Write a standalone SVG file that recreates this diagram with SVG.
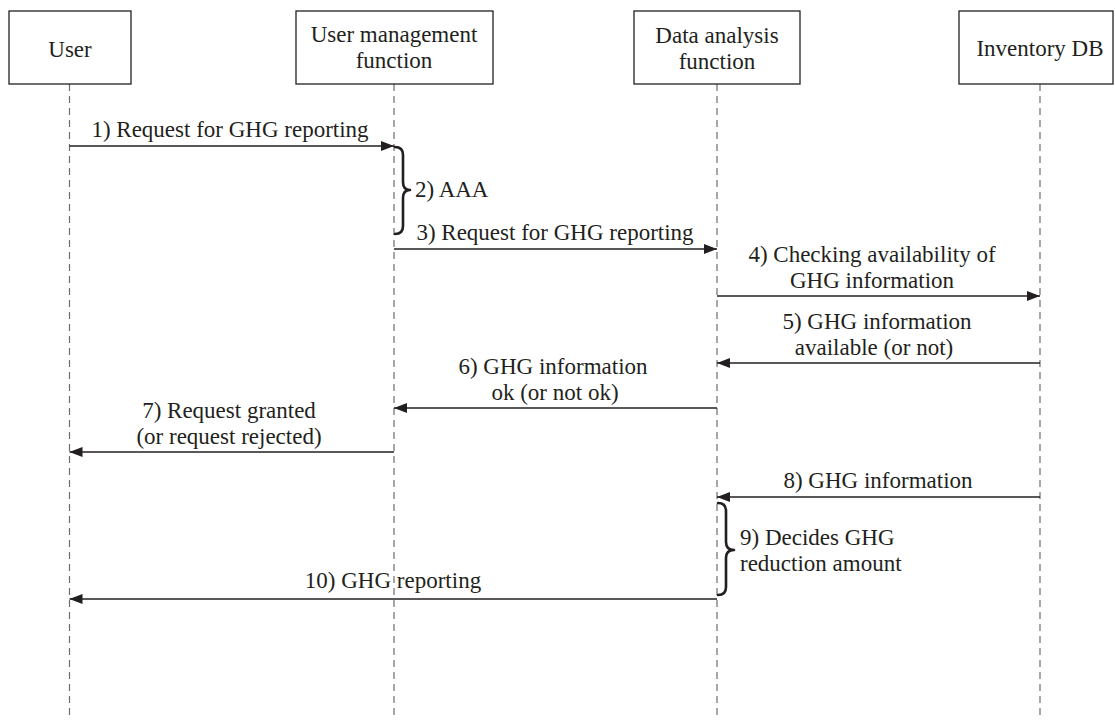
<svg xmlns="http://www.w3.org/2000/svg" width="1115" height="720" viewBox="0 0 1115 720">
<style>
  .box{fill:#fff;stroke:#231f20;stroke-width:1.3}
  .life{stroke:#6d6d6d;stroke-width:1.2;stroke-dasharray:7 5;fill:none}
  .msg{stroke:#231f20;stroke-width:1.3;fill:none}
  .brace{stroke:#231f20;stroke-width:2.6;fill:none;stroke-linecap:round;stroke-linejoin:round}
  text{font-family:'Liberation Serif','Times New Roman',serif;font-size:23px;fill:#231f20}
  .c{text-anchor:middle}
</style>
<defs>
  <marker id="ah" viewBox="0 0 13 10" refX="13" refY="5" markerWidth="13" markerHeight="10" markerUnits="userSpaceOnUse" orient="auto">
    <path d="M0,0 L13,5 L0,10 Z" fill="#231f20"/>
  </marker>
</defs>
<rect width="1115" height="720" fill="#fff"/>
<g id="lifelines">
  <line class="life" x1="69.5" y1="84" x2="69.5" y2="720"/>
  <line class="life" x1="394" y1="84" x2="394" y2="720"/>
  <line class="life" x1="717" y1="84" x2="717" y2="720"/>
  <line class="life" x1="1040" y1="84" x2="1040" y2="720"/>
</g>
<g id="node-user">
  <rect class="box" x="9" y="11" width="122" height="73"/>
  <text class="c" x="70" y="57">User</text>
</g>
<g id="node-user-management">
  <rect class="box" x="296" y="11" width="197" height="73"/>
  <text class="c" x="394" y="42">User management</text>
  <text class="c" x="394" y="68">function</text>
</g>
<g id="node-data-analysis">
  <rect class="box" x="634" y="11" width="166" height="73"/>
  <text class="c" x="717" y="43">Data analysis</text>
  <text class="c" x="717" y="69">function</text>
</g>
<g id="node-inventory-db">
  <rect class="box" x="959" y="11" width="154" height="73"/>
  <text class="c" x="1040" y="56">Inventory DB</text>
</g>
<g id="connectors">
  <line class="msg" x1="69.5" y1="146" x2="394" y2="146" marker-end="url(#ah)"/>
  <line class="msg" x1="394" y1="249" x2="717" y2="249" marker-end="url(#ah)"/>
  <line class="msg" x1="717" y1="296" x2="1040" y2="296" marker-end="url(#ah)"/>
  <line class="msg" x1="1040" y1="363" x2="717" y2="363" marker-end="url(#ah)"/>
  <line class="msg" x1="717" y1="408" x2="394" y2="408" marker-end="url(#ah)"/>
  <line class="msg" x1="394" y1="452" x2="69.5" y2="452" marker-end="url(#ah)"/>
  <line class="msg" x1="1040" y1="497" x2="717" y2="497" marker-end="url(#ah)"/>
  <line class="msg" x1="717" y1="599" x2="69.5" y2="599" marker-end="url(#ah)"/>
  <path class="brace" d="M395,147 Q403,147 403,155 L403,182 Q403,190 410,190 Q403,190 403,198 L403,226 Q403,234 395,234"/>
  <path class="brace" d="M718,503 Q726,503 726,511 L726,542 Q726,550 734,550 Q726,550 726,558 L726,587 Q726,595 718,595"/>
</g>
<g id="labels">
  <text class="c" x="230" y="137">1) Request for GHG reporting</text>
  <text x="415" y="197">2) AAA</text>
  <text class="c" x="555" y="240">3) Request for GHG reporting</text>
  <text class="c" x="872" y="262">4) Checking availability of</text>
  <text class="c" x="872" y="288">GHG information</text>
  <text class="c" x="877" y="329">5) GHG information</text>
  <text class="c" x="874" y="355">available (or not)</text>
  <text class="c" x="553" y="374">6) GHG information</text>
  <text class="c" x="555" y="400">ok (or not ok)</text>
  <text class="c" x="229" y="418">7) Request granted</text>
  <text class="c" x="229" y="444">(or request rejected)</text>
  <text class="c" x="878" y="488">8) GHG information</text>
  <text x="740" y="545">9) Decides GHG</text>
  <text x="740" y="571">reduction amount</text>
  <text class="c" x="393" y="588">10) GHG reporting</text>
</g>
</svg>
